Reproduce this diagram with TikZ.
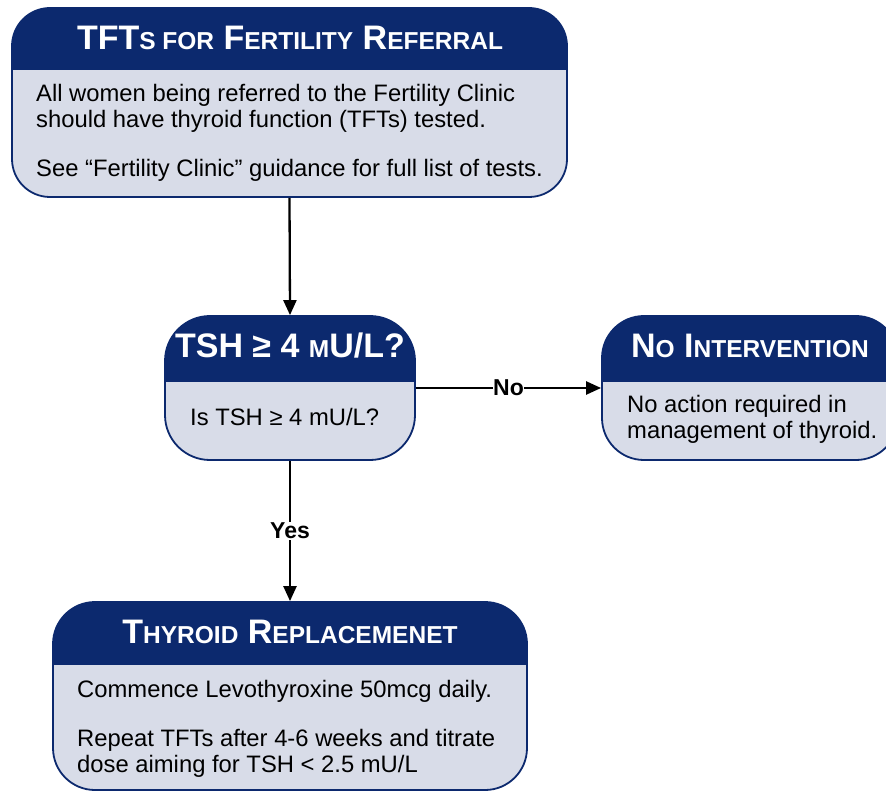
\documentclass[tikz,border=0pt]{standalone}
\usepackage{fontspec}
\setmainfont{Liberation Sans}
\usepackage{xcolor}
\usepackage{tikz}
\usetikzlibrary{arrows.meta, positioning, calc}

\definecolor{hdrblue}{RGB}{12,41,110}
\definecolor{bodygray}{RGB}{216,220,232}

% fake small caps for the box titles
\newcommand{\smc}[1]{{\fontsize{24.5}{24.5}\selectfont\MakeUppercase{#1}}}

\begin{document}
\begin{tikzpicture}[x=1pt, y=-1pt,
    flowbox/.style={draw=hdrblue, fill=bodygray, line width=1.8pt, rounded corners=#1, inner sep=0pt},
    hdr/.style={path picture={\fill[hdrblue, sharp corners] (path picture bounding box.north west) rectangle ([yshift=-#1]path picture bounding box.north east);}},
    boxtitle/.style={text=white, font=\fontsize{34}{34}\selectfont\bfseries, anchor=base, inner sep=0pt},
    boxtext/.style={font=\fontsize{23.8}{26}\selectfont, align=left, anchor=base west, inner sep=0pt},
    flowarrow/.style={line width=2.3pt, -{Triangle[length=15pt,width=13pt]}},
    edgelabel/.style={fill=white, font=\fontsize{23}{23}\selectfont\bfseries, inner sep=1pt}]
    \useasboundingbox (0,0) rectangle (886,791);

    % TFTs for referral
    \node[flowbox=38pt, hdr=62pt, minimum width=555pt, minimum height=189pt] (tft) at (289.5,102.5) {};
    \node[boxtitle] (tftT) at (290,50) {TFT\smc{s for} F\smc{ertility} R\smc{eferral}};
    \node[boxtext] (tftA) at (36,128) {All women being referred to the Fertility Clinic\\should have thyroid function (TFTs) tested.};
    \node[boxtext] (tftB) at (36,177) {See “Fertility Clinic” guidance for full list of tests.};

    % TSH test
    \node[flowbox=45pt, hdr=66pt, minimum width=250pt, minimum height=144pt] (tsh) at (290,388) {};
    \node[boxtitle] (tshT) at (290,358) {TSH ≥ 4 \smc{m}U/L?};
    \node[boxtext] (tshA) at (190,425) {Is TSH ≥ 4 mU/L?};

    % No intervention
    \node[flowbox=42pt, hdr=66pt, minimum width=296pt, minimum height=144pt] (noint) at (750,388) {};
    \node[boxtitle] (nointT) at (750,358) {N\smc{o} I\smc{ntervention}};
    \node[boxtext] (nointA) at (627,438) {No action required in\\management of thyroid.};

    % Thyroid replacement
    \node[flowbox=42pt, hdr=63pt, minimum width=474pt, minimum height=188pt] (thy) at (290,696) {};
    \node[boxtitle] (thyT) at (290,643) {T\smc{hyroid} R\smc{eplacemenet}};
    \node[boxtext] (thyA) at (77,697) {Commence Levothyroxine 50mcg daily.};
    \node[boxtext] (thyB) at (77,772) {Repeat TFTs after 4-6 weeks and titrate\\dose aiming for TSH < 2.5 mU/L};

    % connectors
    \draw[flowarrow] (tft.south) -- (tsh.north);
    \draw[flowarrow] (tsh.east) -- node[edgelabel, inner sep=0pt] {No} (noint.west);
    \draw[flowarrow] (tsh.south) -- node[edgelabel] {Yes} (thy.north);
\end{tikzpicture}
\end{document}
